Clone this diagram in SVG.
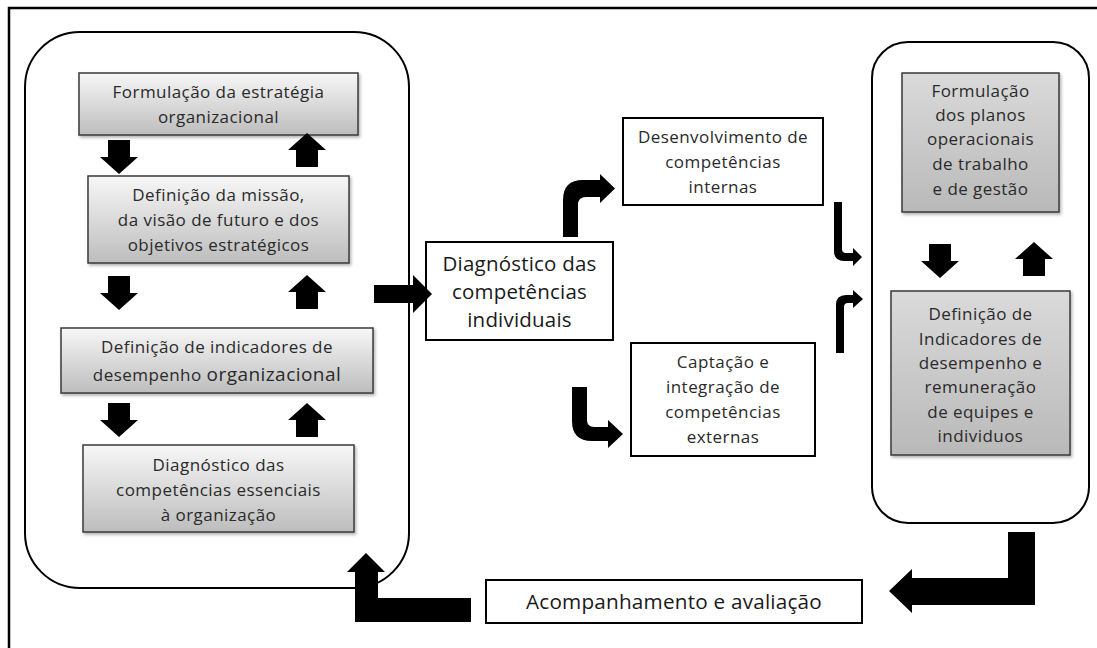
<svg xmlns="http://www.w3.org/2000/svg" width="1097" height="648" viewBox="0 0 1097 648">
<style>
.frame{fill:none;stroke:#000;stroke-width:2.5}
.panel{fill:none;stroke:#000;stroke-width:2}
.gbox{fill:url(#gL);stroke:#3a3a3a;stroke-width:1.5;filter:url(#sh)}
.rbox{fill:url(#gR);stroke:#3a3a3a;stroke-width:1.5;filter:url(#sh)}
.wbox{fill:#fff;stroke:#000;stroke-width:2}
.t{font-family:"Open Sans","Liberation Sans",sans-serif;font-size:17px;letter-spacing:0.45px;fill:#2a2a2a;text-anchor:middle}
.tb{font-family:"Open Sans","Liberation Sans",sans-serif;font-size:20.5px;letter-spacing:0.2px;fill:#1a1a1a;text-anchor:middle}
.arr{fill:#000}
</style>
<defs>
<linearGradient id="gL" x1="0" y1="0" x2="0" y2="1">
<stop offset="0" stop-color="#f7f7f7"/><stop offset="1" stop-color="#bdbdbd"/>
</linearGradient>
<linearGradient id="gR" x1="0" y1="0" x2="0" y2="1">
<stop offset="0" stop-color="#dadada"/><stop offset="1" stop-color="#b9b9b9"/>
</linearGradient>
<filter id="sh" x="-5%" y="-5%" width="115%" height="120%">
<feDropShadow dx="1.5" dy="2" stdDeviation="1.5" flood-color="#000" flood-opacity="0.3"/>
</filter>
<path id="dn" d="M8,0 H30 V17 H38 L19,34 L0,17 H8 Z"/>
<path id="up" d="M19,0 L38,17 H30 V34 H8 V17 H0 Z"/>
</defs>
<rect class="frame" x="9" y="8" width="1200" height="800"/>

<g id="left-panel">
<rect class="panel" x="25" y="32" width="384" height="556" rx="55" ry="55"/>
</g>
<g id="right-panel">
<rect class="panel" x="872" y="42" width="217" height="481" rx="36" ry="36"/>
</g>

<g id="n1">
<rect class="gbox" x="79" y="73" width="279" height="62"/>
<text class="t" x="218.5" y="98">Formulação da estratégia</text>
<text class="t" x="218.5" y="123">organizacional</text>
</g>
<g id="n2">
<rect class="gbox" x="88" y="176" width="261" height="87"/>
<text class="t" x="218.5" y="201">Definição da missão,</text>
<text class="t" x="218.5" y="226">da visão de futuro e dos</text>
<text class="t" x="218.5" y="251">objetivos estratégicos</text>
</g>
<g id="n3">
<rect class="gbox" x="61" y="328" width="312" height="65"/>
<text class="t" x="217" y="353">Definição de indicadores de</text>
<text class="t" x="217" y="381">desempenho <tspan font-size="19">organizacional</tspan></text>
</g>
<g id="n4">
<rect class="gbox" x="83" y="445" width="271" height="87"/>
<text class="t" x="218.5" y="471">Diagnóstico das</text>
<text class="t" x="218.5" y="496">competências essenciais</text>
<text class="t" x="218.5" y="521">à organização</text>
</g>

<g id="n5">
<rect class="wbox" x="426" y="242" width="187" height="98"/>
<text class="tb" x="519.5" y="271">Diagnóstico das</text>
<text class="tb" x="519.5" y="299">competências</text>
<text class="tb" x="519.5" y="327">individuais</text>
</g>
<g id="n6">
<rect class="wbox" x="623" y="118" width="200" height="87"/>
<text class="t" x="723" y="143">Desenvolvimento de</text>
<text class="t" x="723" y="168">competências</text>
<text class="t" x="723" y="193">internas</text>
</g>
<g id="n7">
<rect class="wbox" x="631" y="343" width="184" height="113"/>
<text class="t" x="723" y="368">Captação e</text>
<text class="t" x="723" y="393">integração de</text>
<text class="t" x="723" y="418">competências</text>
<text class="t" x="723" y="443">externas</text>
</g>

<g id="n8">
<rect class="rbox" x="902" y="73" width="157" height="139"/>
<text class="t" x="980.5" y="97">Formulação</text>
<text class="t" x="980.5" y="121">dos planos</text>
<text class="t" x="980.5" y="145">operacionais</text>
<text class="t" x="980.5" y="170">de trabalho</text>
<text class="t" x="980.5" y="195">e de gestão</text>
</g>
<g id="n9">
<rect class="rbox" x="891" y="291" width="179" height="164"/>
<text class="t" x="980.5" y="320">Definição de</text>
<text class="t" x="980.5" y="345">Indicadores de</text>
<text class="t" x="980.5" y="369">desempenho  e</text>
<text class="t" x="980.5" y="393">remuneração</text>
<text class="t" x="980.5" y="418">de equipes e</text>
<text class="t" x="980.5" y="442">individuos</text>
</g>

<g id="n10">
<rect class="wbox" x="486" y="580" width="376" height="43"/>
<text class="tb" x="674" y="609" textLength="296" lengthAdjust="spacingAndGlyphs">Acompanhamento  e avaliação</text>
</g>

<g id="connectors" class="arr">
<use href="#dn" x="100" y="140"/>
<use href="#up" x="288" y="133"/>
<use href="#dn" x="100" y="276"/>
<use href="#up" x="288" y="275"/>
<use href="#dn" x="100" y="403"/>
<use href="#up" x="288" y="403"/>
<use href="#dn" x="921" y="244"/>
<use href="#up" x="1015" y="242"/>
<path d="M374,285 H413 V275 L432,294 L413,313 V303 H374 Z"/>
<path d="M563,237 L563,200 Q563,180 583,180 L600,180 L600,174 L615,188.5 L600,203 L600,197 L586,197 Q578,197 578,205 L578,237 Z"/>
<path d="M572,387 L587,387 L587,420 Q587,427 594,427 L608,427 L608,420 L623,434 L608,448 L608,441 L592,441 Q572,441 572,421 Z"/>
<path d="M834,202 L842,202 L842,249 Q842,253 846,253 L853,253 L853,248 L862,257 L853,266 L853,261 L844,261 Q834,261 834,251 Z"/>
<path d="M836,353 L836,305 Q836,295 846,295 L853,295 L853,290 L863,299 L853,308 L853,303 L848,303 Q844,303 844,307 L844,353 Z"/>
<path d="M355,622 L355,572 L347,572 L366,553 L385,572 L378,572 L378,598 L471,598 L471,622 Z"/>
<path d="M1008,532 L1035,532 L1035,605 L912,605 L912,613 L889,591 L912,569 L912,578 L1008,578 Z"/>
</g>
</svg>
